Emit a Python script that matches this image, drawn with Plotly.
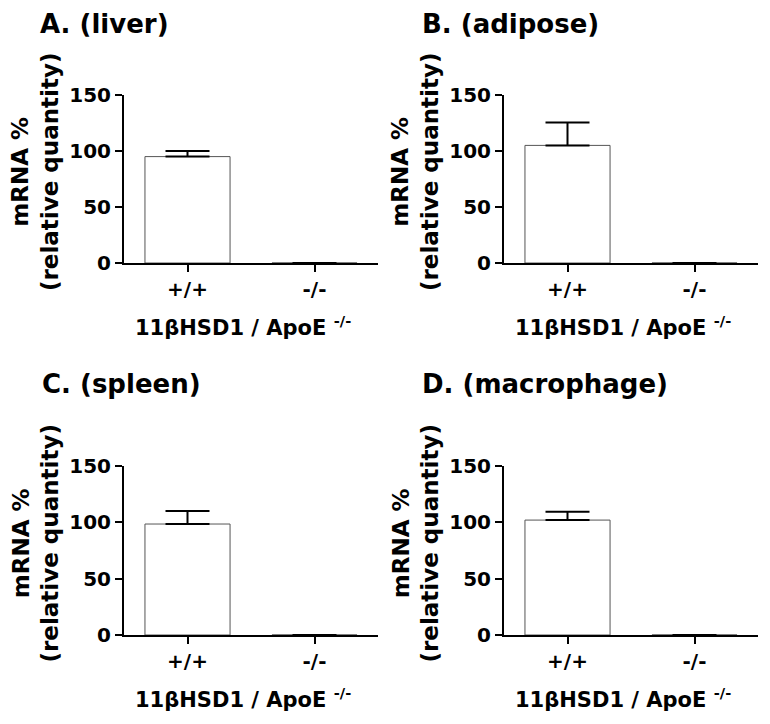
import plotly.graph_objects as go

# ---- data ----
categories = ["+/+", "-/-"]
panel_titles = ["A. (liver)", "B. (adipose)", "C. (spleen)", "D. (macrophage)"]
liver_mean = [95, 0]
liver_err = [5, 0]
adipose_mean = [105, 0]
adipose_err = [20.5, 0]
spleen_mean = [98.5, 0]
spleen_err = [11.5, 0]
macrophage_mean = [102, 0]
macrophage_err = [7.5, 0]
y_ticks = [0, 50, 100, 150]
y_title = "mRNA %<br>(relative quantity)"
x_title = "11βHSD1 / ApoE <sup>-/-</sup>"

means = [liver_mean, adipose_mean, spleen_mean, macrophage_mean]
errs = [liver_err, adipose_err, spleen_err, macrophage_err]

OFF = 8  # page body margin
W, H = 770 - OFF, 724 - OFF
FONT = "DejaVu Sans"

# pixel layout (screen coords) of the four panels: (x0, x1, ytop, ybottom)
boxes = [(124, 378, 95, 263), (504, 758, 95, 263),
         (124, 378, 466, 635), (504, 758, 466, 635)]
title_pos = [(38, 24), (420, 24), (40, 384), (420, 384)]


def px(v):
    return (v - OFF) / W


def py(v):
    return 1 - (v - OFF) / H


fig = go.Figure()
annotations = []
for i in range(4):
    x0, x1, yt, yb = boxes[i]
    xa = "x" if i == 0 else f"x{i+1}"
    ya = "y" if i == 0 else f"y{i+1}"
    fig.add_trace(go.Bar(
        x=categories, y=means[i], xaxis=xa, yaxis=ya,
        width=0.67,
        marker=dict(color="white", line=dict(color="#555555", width=1)),
        error_y=dict(type="data", symmetric=False,
                     array=[e if e else None for e in errs[i]],
                     arrayminus=[0, 0], color="black", thickness=2, width=22),
        showlegend=False, hoverinfo="skip",
    ))
    xkey = "xaxis" if i == 0 else f"xaxis{i+1}"
    ykey = "yaxis" if i == 0 else f"yaxis{i+1}"
    fig.update_layout(**{
        xkey: dict(domain=[px(x0), px(x1)], anchor=ya, showline=True,
                   linecolor="black", linewidth=2, ticks="outside",
                   ticklen=7, tickwidth=2, tickcolor="black",
                   showgrid=False, zeroline=False, automargin=False,
                   tickfont=dict(family=FONT, size=20, color="black", weight="bold")),
        ykey: dict(domain=[py(yb), py(yt)], anchor=xa, range=[0, 150],
                   tickvals=y_ticks, showline=True, linecolor="black",
                   linewidth=2, ticks="outside", ticklen=7, tickwidth=2,
                   tickcolor="black", showgrid=False, zeroline=False,
                   automargin=False,
                   tickfont=dict(family=FONT, size=20, color="black", weight="bold")),
    })
    tx, ty = title_pos[i]
    annotations.append(dict(
        text=panel_titles[i], x=px(tx), y=py(ty), xref="paper", yref="paper",
        xanchor="left", yanchor="middle", showarrow=False,
        font=dict(family=FONT, size=26, color="black", weight="bold")))
    annotations.append(dict(
        text=y_title, x=px(x0 - 89), y=py((yt + yb) / 2 - 7),
        xref="paper", yref="paper", xanchor="center", yanchor="middle",
        textangle=-90, showarrow=False,
        font=dict(family=FONT, size=23, color="black", weight="bold")))
    annotations.append(dict(
        text=x_title, x=px((x0 + x1) / 2 - 8), y=py(yb + 63),
        xref="paper", yref="paper", xanchor="center", yanchor="middle",
        showarrow=False,
        font=dict(family=FONT, size=21, color="black", weight="bold")))

fig.update_layout(width=W, height=H,
                  margin=dict(l=0, r=0, t=0, b=0, autoexpand=False),
                  paper_bgcolor="white", plot_bgcolor="white",
                  annotations=annotations, bargap=0.33)
fig.write_html("out.html")
